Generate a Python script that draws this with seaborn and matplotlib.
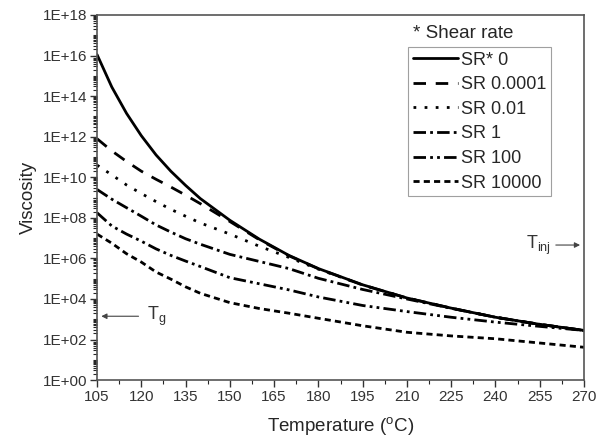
import seaborn as sns
import pandas as pd
import numpy as np
import matplotlib
matplotlib.use('Agg')
import matplotlib.pyplot as plt
from matplotlib.ticker import FuncFormatter, LogLocator, MultipleLocator

# temperature grid (C) and log10(viscosity)
temps = [105, 110, 115, 120, 125, 130, 135, 140, 150, 160, 170, 180, 195, 210, 225, 240, 255, 270]
sr_0 = [16.05, 14.45, 13.15, 12.05, 11.1, 10.3, 9.6, 8.95, 7.88, 6.95, 6.15, 5.5, 4.7, 4.05, 3.55, 3.1, 2.75, 2.45]
sr_0001 = [11.9, 11.3, 10.78, 10.3, 9.9, 9.52, 9.12, 8.7, 7.82, 6.92, 6.13, 5.49, 4.69, 4.05, 3.55, 3.1, 2.75, 2.45]
sr_001 = [10.6, 10.12, 9.62, 9.2, 8.8, 8.42, 8.08, 7.75, 7.2, 6.6, 6.05, 5.47, 4.69, 4.05, 3.55, 3.1, 2.75, 2.45]
sr_1 = [9.4, 8.92, 8.5, 8.08, 7.65, 7.3, 6.97, 6.7, 6.2, 5.85, 5.5, 5.02, 4.47, 4.0, 3.54, 3.1, 2.75, 2.45]
sr_100 = [8.25, 7.6, 7.2, 6.85, 6.47, 6.15, 5.87, 5.6, 5.05, 4.75, 4.45, 4.1, 3.68, 3.38, 3.1, 2.86, 2.65, 2.45]
sr_10000 = [7.2, 6.75, 6.23, 5.82, 5.33, 4.98, 4.6, 4.28, 3.82, 3.53, 3.3, 3.05, 2.68, 2.36, 2.18, 2.04, 1.83, 1.62]

labels = ['SR* 0', 'SR 0.0001', 'SR 0.01', 'SR 1', 'SR 100', 'SR 10000']
series = [sr_0, sr_0001, sr_001, sr_1, sr_100, sr_10000]

rows = []
for lab, vals in zip(labels, series):
    for t, v in zip(temps, vals):
        rows.append({'T': t, 'eta': 10 ** v, 'SR': lab})
df = pd.DataFrame(rows)

sns.set_style('ticks')
plt.rcParams['font.family'] = ['Liberation Sans', 'DejaVu Sans']
plt.rcParams['mathtext.fontset'] = 'custom'
plt.rcParams['mathtext.rm'] = 'Liberation Sans'
plt.rcParams['mathtext.it'] = 'Liberation Sans'

fig = plt.figure(figsize=(5.99, 4.41), dpi=100)
ax = fig.add_axes([0.162, 0.138, 0.813, 0.828])

dashes = ['', (4.5, 3.5), (1, 3), (4.5, 1.5, 1, 1.5), (4.5, 1.5, 1, 1.5, 1, 1.5), (2.2, 1.5)]
sns.lineplot(data=df, x='T', y='eta', style='SR', style_order=labels,
             dashes=dashes, color='black', linewidth=2.0, ax=ax)

ax.set_yscale('log')
ax.set_xlim(105, 270)
ax.set_ylim(1, 1e18)
ax.xaxis.set_major_locator(MultipleLocator(15))
ax.xaxis.set_minor_locator(MultipleLocator(7.5))
ax.yaxis.set_major_locator(LogLocator(base=100, numticks=20))
ax.yaxis.set_minor_locator(LogLocator(base=10, subs=np.arange(1, 10), numticks=40))
ax.yaxis.set_major_formatter(FuncFormatter(lambda v, p: '1E+%02d' % int(round(np.log10(v)))))
ax.yaxis.set_minor_formatter(FuncFormatter(lambda v, p: ''))
ax.tick_params(which='major', length=5, width=1, labelsize=11, colors='#333333', pad=2)
ax.tick_params(which='minor', length=3, width=0.8)
for s in ax.spines.values():
    s.set_color('#555555')
    s.set_linewidth(1.2)

ax.set_xlabel('Temperature ($^{\\rm o}$C)', fontsize=13.5, labelpad=8)
ax.set_ylabel('Viscosity', fontsize=13.5, labelpad=4)

handles, labs = ax.get_legend_handles_labels()
leg = ax.legend(handles, labs, loc='upper left', bbox_to_anchor=(0.639, 0.912),
                frameon=True, fancybox=False, edgecolor='#888888', fontsize=13,
                handlelength=2.5, handletextpad=0.2, labelspacing=0.42,
                borderpad=0.25, borderaxespad=0)
leg.get_frame().set_linewidth(0.8)
ax.text(0.648, 0.95, '* Shear rate', transform=ax.transAxes, fontsize=13.5,
        va='center', ha='left')

# glass transition and injection temperature markers
ax.annotate('', xy=(105.5, 10 ** 3.15), xytext=(120, 10 ** 3.15),
            arrowprops=dict(arrowstyle='-|>', color='#444444', lw=0.8, mutation_scale=8))
ax.text(122, 10 ** 3.15, 'T$_{\\rm g}$', fontsize=13, va='center', color='#333333')
ax.annotate('', xy=(269.6, 10 ** 6.66), xytext=(259.5, 10 ** 6.66),
            arrowprops=dict(arrowstyle='-|>', color='#444444', lw=0.8, mutation_scale=8))
ax.text(250.5, 10 ** 6.66, 'T$_{\\rm inj}$', fontsize=13, va='center', color='#333333')

fig.savefig('out.png', dpi=100)
